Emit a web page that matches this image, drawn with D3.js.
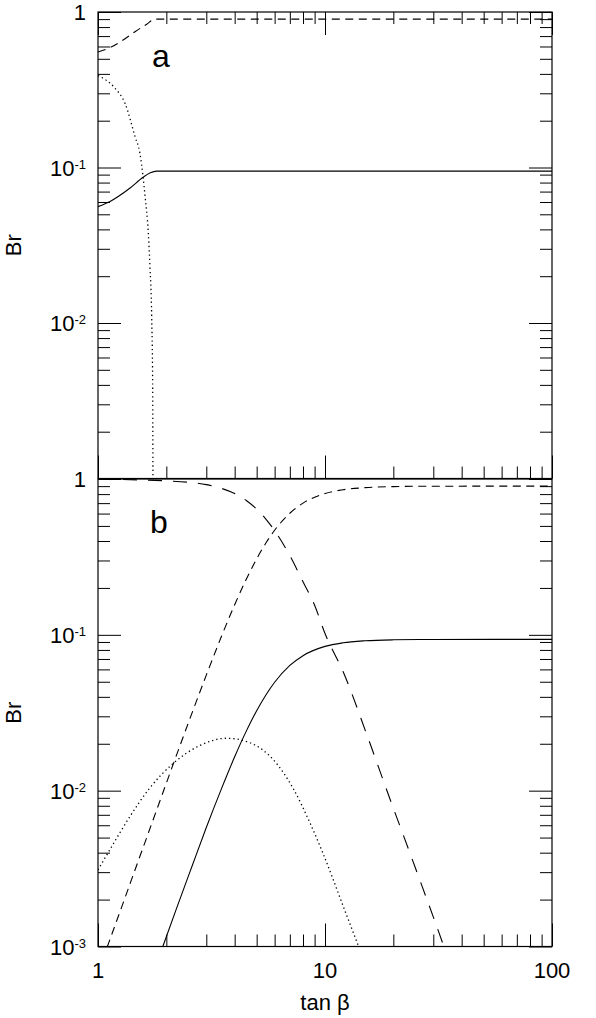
<!DOCTYPE html>
<html>
<head>
<meta charset="utf-8">
<script src="https://cdn.jsdelivr.net/npm/d3@7"></script>
<style>
  html, body { margin: 0; padding: 0; background: #fff; }
  svg { display: block; }
  text { font-family: "Liberation Sans", Arial, Helvetica, sans-serif; fill: #000; }
</style>
</head>
<body>
<script>
// ---------------- data ----------------
const xDomain = [1, 100];
const yDomain = [1e-3, 1];

const xTickLabels = [1, 10, 100];
const yTickLabelsA = [{v: 1, base: "1", exp: ""}, {v: 0.1, base: "10", exp: "-1"}, {v: 0.01, base: "10", exp: "-2"}];
const yTickLabelsB = [{v: 1, base: "1", exp: ""}, {v: 0.1, base: "10", exp: "-1"}, {v: 0.01, base: "10", exp: "-2"}, {v: 0.001, base: "10", exp: "-3"}];

// Panel a
const aSolidX  = [1, 1.13, 1.38, 1.58, 1.70, 1.81, 3, 100];
const aSolidY  = [0.056, 0.0605, 0.0735, 0.0865, 0.0925, 0.0948, 0.0948, 0.0948];
const aDashX   = [1, 1.13, 1.30, 1.456, 1.64, 1.78, 3, 100];
const aDashY   = [0.553, 0.59, 0.665, 0.747, 0.835, 0.90, 0.90, 0.90];
const aDotX    = [1, 1.19, 1.315, 1.456, 1.53, 1.58, 1.61, 1.666, 1.694, 1.724, 1.741, 1.746, 1.748];
const aDotY    = [0.39, 0.323, 0.259, 0.158, 0.123, 0.087, 0.0665, 0.0377, 0.023, 0.011, 0.0041, 0.001, 0.0005];

// Panel b
const bSolidX  = [1.8, 1.93, 2.2, 2.6, 3.0, 3.5, 4.0, 4.5, 5.0, 5.5, 6.0, 7.0, 8.0, 10, 12, 15, 20, 30, 100];
const bSolidY  = [0.00075, 0.001, 0.0017, 0.0033, 0.0058, 0.0103, 0.0165, 0.0241, 0.0326, 0.0413, 0.0496, 0.0636, 0.0735, 0.0843, 0.0889, 0.0916, 0.0929, 0.0934, 0.0935];
const bDashX   = [1.0, 1.1, 1.3, 1.5, 1.8, 2.1, 2.5, 3.0, 3.5, 4.0, 4.5, 5.0, 5.5, 6.0, 7.0, 8.0, 10, 12, 15, 20, 30, 100];
const bDashY   = [0.00068, 0.001, 0.00196, 0.0035, 0.0073, 0.0136, 0.0272, 0.0551, 0.0979, 0.156, 0.2275, 0.3075, 0.390, 0.469, 0.603, 0.700, 0.807, 0.853, 0.880, 0.894, 0.899, 0.90];
const bLongX   = [1, 1.5, 2.0, 2.5, 3.0, 3.5, 4.0, 4.5, 5.0, 5.5, 6.0, 7.0, 8.0, 9.0, 10, 12.05, 15.3, 18.7, 25, 33.4, 40];
const bLongY   = [0.996, 0.987, 0.973, 0.953, 0.920, 0.8705, 0.806, 0.7276, 0.6406, 0.5515, 0.4664, 0.3224, 0.219, 0.155, 0.102, 0.0575, 0.0228, 0.0101, 0.0032, 0.001, 0.00047];
const bDotX    = [1, 1.13, 1.38, 1.69, 2.15, 2.81, 3.69, 4.67, 5.92, 7.25, 8.59, 9.84, 12, 14.06, 16];
const bDotY    = [0.0031, 0.0042, 0.0068, 0.0104, 0.0150, 0.0195, 0.0217, 0.0203, 0.0158, 0.0103, 0.0062, 0.0039, 0.00183, 0.001, 0.0006];

// ---------------- layout ----------------
const W = 596, H = 1018;
const L = 98, R = 552;
const panels = [
  {id: "a", top: 12, bottom: 478.5, labels: yTickLabelsA, letter: "a", letterX: 152, letterY: 67,
   series: [
     {x: aSolidX, y: aSolidY, dash: null},
     {x: aDashX, y: aDashY, dash: "8,5.5"},
     {x: aDotX, y: aDotY, dash: "1.3,3", dot: true}
   ], topTicks: true},
  {id: "b", top: 479, bottom: 946.5, labels: yTickLabelsB, letter: "b", letterX: 150, letterY: 533,
   series: [
     {x: bSolidX, y: bSolidY, dash: null},
     {x: bDashX, y: bDashY, dash: "8,5.5"},
     {x: bLongX, y: bLongY, dash: "14,11"},
     {x: bDotX, y: bDotY, dash: "1.3,3", dot: true}
   ], topTicks: false}
];

const svg = d3.select("body").append("svg").attr("width", W).attr("height", H);
const x = d3.scaleLog().domain(xDomain).range([L, R]);

const xMajor = [1, 10, 100];
const xMinor = [];
[1, 10].forEach(d => { for (let k = 2; k <= 9; k++) xMinor.push(k * d); });
const yMajor = [1e-3, 1e-2, 1e-1, 1];
const yMinor = [];
[1e-3, 1e-2, 1e-1].forEach(d => { for (let k = 2; k <= 9; k++) yMinor.push(k * d); });

const MAJ = 23, MIN = 12;

function styleAxis(g) {
  g.select(".domain").remove();
  g.selectAll("line").attr("stroke", "#000").attr("stroke-width", 1);
  g.selectAll("text").remove();
}

panels.forEach(p => {
  const y = d3.scaleLog().domain(yDomain).range([p.bottom, p.top]);
  const g = svg.append("g");

  const cid = "clip-" + p.id;
  svg.append("clipPath").attr("id", cid).append("rect")
    .attr("x", L).attr("y", p.top).attr("width", R - L).attr("height", p.bottom - p.top);

  [[yMajor, MAJ], [yMinor, MIN]].forEach(([vals, len]) => {
    g.append("g").attr("transform", `translate(${L},0)`)
      .call(d3.axisRight(y).tickValues(vals).tickSize(len).tickFormat(""))
      .call(styleAxis);
    g.append("g").attr("transform", `translate(${R},0)`)
      .call(d3.axisLeft(y).tickValues(vals).tickSize(len).tickFormat(""))
      .call(styleAxis);
  });
  [[xMajor, MAJ], [xMinor, MIN]].forEach(([vals, len]) => {
    if (p.topTicks) {
      g.append("g").attr("transform", `translate(0,${p.top})`)
        .call(d3.axisBottom(x).tickValues(vals).tickSize(len).tickFormat(""))
        .call(styleAxis);
    }
    g.append("g").attr("transform", `translate(0,${p.bottom})`)
      .call(d3.axisTop(x).tickValues(vals).tickSize(len).tickFormat(""))
      .call(styleAxis);
  });

  g.append("rect").attr("x", L).attr("y", p.top).attr("width", R - L).attr("height", p.bottom - p.top)
    .attr("fill", "none").attr("stroke", "#000").attr("stroke-width", 1.2);

  const line = d3.line().x(d => x(d[0])).y(d => y(d[1])).curve(d3.curveMonotoneX);
  const cg = g.append("g").attr("clip-path", `url(#${cid})`);
  p.series.forEach(s => {
    const pts = s.x.map((xv, i) => [xv, s.y[i]]);
    cg.append("path").attr("d", line(pts)).attr("fill", "none")
      .attr("stroke", "#000").attr("stroke-width", s.dot ? 1.3 : 1.1)
      .attr("stroke-dasharray", s.dash);
  });

  p.labels.forEach(lb => {
    const t = g.append("text").attr("x", 86).attr("y", y(lb.v) + 8)
      .attr("text-anchor", "end").attr("font-size", 22);
    t.append("tspan").text(lb.base);
    if (lb.exp) t.append("tspan").attr("font-size", 13).attr("dy", -7).text(lb.exp);
  });

  g.append("text").attr("transform", `translate(21,${(p.top + p.bottom) / 2}) rotate(-90)`)
    .attr("text-anchor", "middle").attr("font-size", 22).text("Br");

  g.append("text").attr("x", p.letterX).attr("y", p.letterY).attr("font-size", 32).text(p.letter);
});

xTickLabels.forEach(v => {
  svg.append("text").attr("x", x(v)).attr("y", 978).attr("text-anchor", "middle")
    .attr("font-size", 22).text(String(v));
});
svg.append("text").attr("x", (L + R) / 2).attr("y", 1010).attr("text-anchor", "middle")
  .attr("font-size", 22).text("tan β");
</script>
</body>
</html>
